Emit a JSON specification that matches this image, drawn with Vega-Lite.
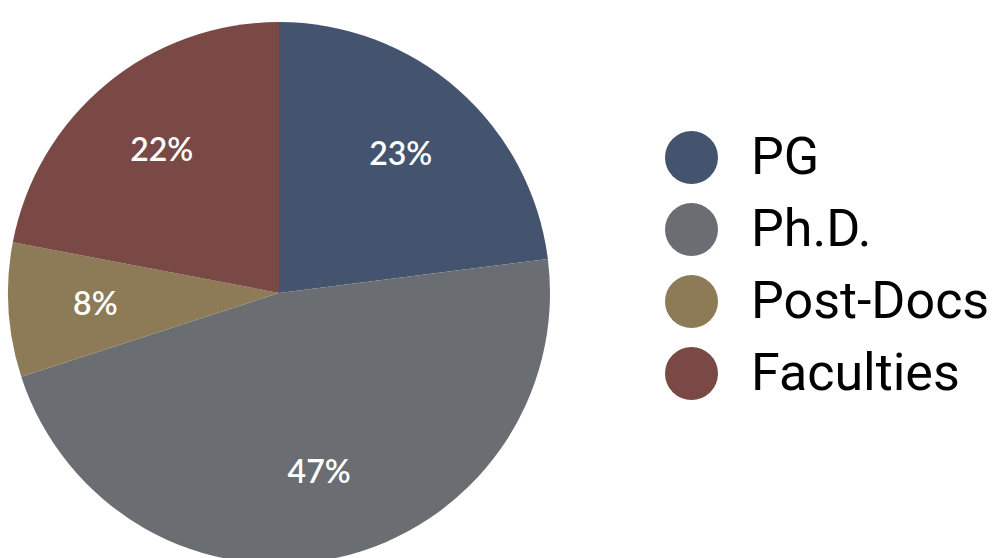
{
  "$schema": "https://vega.github.io/schema/vega-lite/v6.json",
  "width": 558,
  "height": 586,
  "padding": 0,
  "background": "white",
  "data": {
    "values": [
      {"group": "PG", "pct": 23, "order": 1},
      {"group": "Ph.D.", "pct": 47, "order": 2},
      {"group": "Post-Docs", "pct": 8, "order": 3},
      {"group": "Faculties", "pct": 22, "order": 4}
    ]
  },
  "encoding": {
    "theta": {"field": "pct", "type": "quantitative", "stack": true},
    "order": {"field": "order", "type": "quantitative"},
    "color": {
      "field": "group",
      "type": "nominal",
      "sort": ["PG", "Ph.D.", "Post-Docs", "Faculties"],
      "scale": {
        "domain": ["PG", "Ph.D.", "Post-Docs", "Faculties"],
        "range": ["#44546f", "#6a6d71", "#8d7a57", "#7a4845"]
      },
      "legend": {
        "title": null,
        "orient": "none",
        "legendX": 665,
        "legendY": 131,
        "padding": 0,
        "symbolType": "circle",
        "symbolSize": 2809,
        "symbolStrokeWidth": 0,
        "symbolOpacity": 1,
        "labelFont": "Roboto",
        "labelFontSize": 52,
        "labelFontWeight": 400,
        "labelColor": "#000000",
        "labelOffset": 33,
        "rowPadding": 19,
        "labelLimit": 400
      }
    }
  },
  "layer": [
    {
      "mark": {"type": "arc", "outerRadius": 271, "stroke": null}
    },
    {
      "mark": {"type": "text", "radius": 184, "font": "Lato", "fontSize": 32, "fontWeight": 600, "fill": "white", "baseline": "middle", "align": "center"},
      "encoding": {
        "text": {"field": "label", "type": "nominal"},
        "color": {"value": "white"}
      },
      "transform": [{"calculate": "datum.pct + '%'", "as": "label"}]
    }
  ],
  "config": {"view": {"stroke": null}}
}
